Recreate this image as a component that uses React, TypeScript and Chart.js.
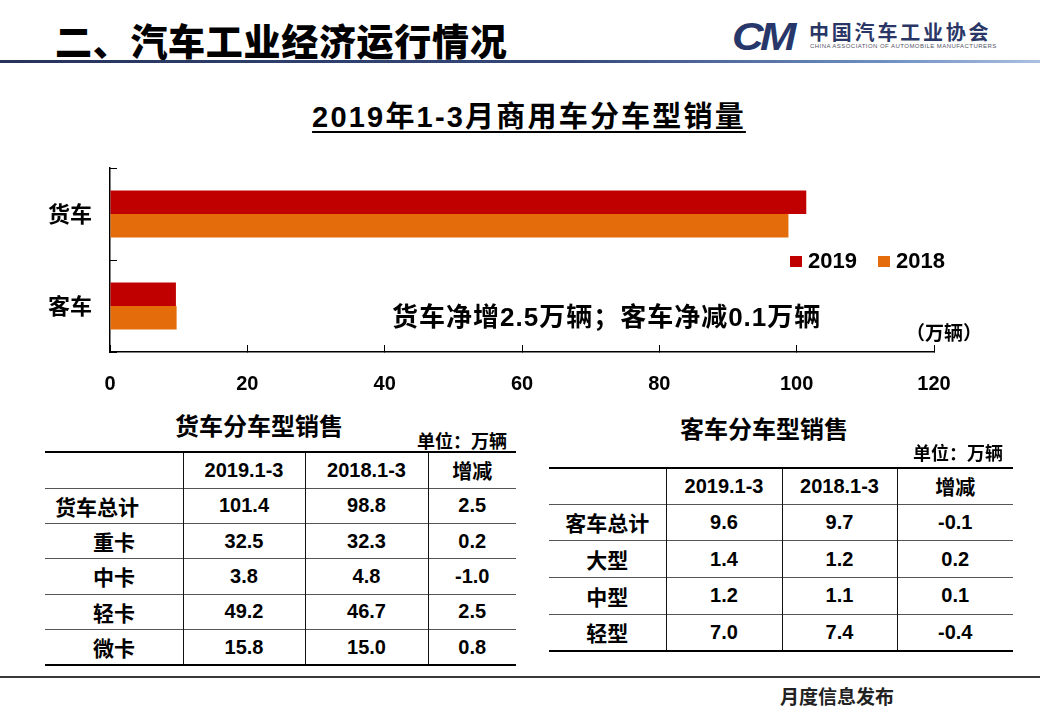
import React, { useEffect, useRef } from "react";
import { Chart, registerables } from "chart.js";

Chart.register(...registerables);

// ---- Data ----
const categories = ["货车", "客车"];
const seriesLabels = ["2019", "2018"];
const sales2019 = [101.4, 9.6];
const sales2018 = [98.8, 9.7];
const seriesColors = ["#C00000", "#E46C0A"];
const xMin = 0;
const xMax = 120;
const xStep = 20;

const chartTitle = "2019年1-3月商用车分车型销量";
const noteText = "货车净增2.5万辆；客车净减0.1万辆";
const unitText = "（万辆）";

const tableHeaders = ["2019.1-3", "2018.1-3", "增减"];
const truckRows = ["货车总计", "重卡", "中卡", "轻卡", "微卡"];
const truck2019 = ["101.4", "32.5", "3.8", "49.2", "15.8"];
const truck2018 = ["98.8", "32.3", "4.8", "46.7", "15.0"];
const truckDiff = ["2.5", "0.2", "-1.0", "2.5", "0.8"];

const busRows = ["客车总计", "大型", "中型", "轻型"];
const bus2019 = ["9.6", "1.4", "1.2", "7.0"];
const bus2018 = ["9.7", "1.2", "1.1", "7.4"];
const busDiff = ["-0.1", "0.2", "0.1", "-0.4"];

const CJK = '"Noto Sans CJK SC", "Noto Sans", sans-serif';
const LAT = '"Liberation Sans", Arial, "Noto Sans CJK SC", sans-serif';

type TableProps = {
  left: number;
  top: number;
  colWidths: number[];
  headerH: number;
  rowH: number;
  labels: string[];
  c1: string[];
  c2: string[];
  c3: string[];
  labelPad: (i: number) => React.CSSProperties;
};

function DataTable(p: TableProps) {
  const width = p.colWidths.reduce((a, b) => a + b, 0);
  const n = p.labels.length;
  const cellBase: React.CSSProperties = {
    padding: 0,
    textAlign: "center",
    verticalAlign: "middle",
    fontFamily: LAT,
    fontWeight: 700,
    fontSize: 20,
    color: "#000",
  };
  const border = (ri: number, ci: number): React.CSSProperties => {
    const s: React.CSSProperties = {};
    s.borderTop = ri === 0 ? "2px solid #000" : "1px solid #555";
    if (ri === n) s.borderBottom = "2px solid #000";
    if (ci > 0) s.borderLeft = "1px solid #111";
    return s;
  };
  return (
    <table
      style={{
        position: "absolute",
        left: p.left,
        top: p.top,
        width,
        borderCollapse: "collapse",
        tableLayout: "fixed",
      }}
    >
      <colgroup>
        {p.colWidths.map((w, i) => (
          <col key={i} style={{ width: w }} />
        ))}
      </colgroup>
      <tbody>
        <tr style={{ height: p.headerH }}>
          <td style={{ ...cellBase, ...border(0, 0) }}></td>
          {tableHeaders.map((h, i) => (
            <td
              key={i}
              style={{
                ...cellBase,
                ...border(0, i + 1),
                fontFamily: i === 2 ? CJK : LAT,
              }}
            >
              {h}
            </td>
          ))}
        </tr>
        {p.labels.map((lab, r) => (
          <tr key={r} style={{ height: p.rowH }}>
            <td
              style={{
                ...cellBase,
                ...border(r + 1, 0),
                fontFamily: CJK,
                fontSize: 21,
                ...p.labelPad(r),
              }}
            >
              {lab}
            </td>
            <td style={{ ...cellBase, ...border(r + 1, 1) }}>{p.c1[r]}</td>
            <td style={{ ...cellBase, ...border(r + 1, 2) }}>{p.c2[r]}</td>
            <td style={{ ...cellBase, ...border(r + 1, 3) }}>{p.c3[r]}</td>
          </tr>
        ))}
      </tbody>
    </table>
  );
}

export default function App() {
  const canvasRef = useRef<HTMLCanvasElement | null>(null);

  useEffect(() => {
    document.body.style.margin = "0";
    const ctx = canvasRef.current;
    if (!ctx) return;
    const chart = new Chart(ctx, {
      type: "bar",
      data: {
        labels: categories,
        datasets: [
          {
            label: seriesLabels[0],
            data: sales2019,
            backgroundColor: seriesColors[0],
            borderWidth: 0,
            barPercentage: 1,
            categoryPercentage: 0.51,
          },
          {
            label: seriesLabels[1],
            data: sales2018,
            backgroundColor: seriesColors[1],
            borderWidth: 0,
            barPercentage: 1,
            categoryPercentage: 0.51,
          },
        ],
      },
      options: {
        indexAxis: "y",
        responsive: true,
        maintainAspectRatio: false,
        animation: false,
        layout: { padding: { top: 18, right: 106, left: 0, bottom: 0 } },
        plugins: {
          legend: { display: false },
          tooltip: { enabled: false },
          title: { display: false },
        },
        scales: {
          x: {
            type: "linear",
            min: xMin,
            max: xMax,
            ticks: {
              stepSize: xStep,
              color: "#000",
              padding: 27,
              font: { family: LAT, size: 20, weight: "bold" },
            },
            grid: {
              drawOnChartArea: false,
              drawTicks: true,
              tickLength: -7,
              color: "#000",
              lineWidth: 1,
            },
            border: { display: true, color: "#000", width: 1.5 },
            afterFit: (s: any) => {
              s.height = 48;
              s.paddingLeft = 0;
              s.paddingRight = 0;
            },
          },
          y: {
            type: "category",
            ticks: {
              color: "#000",
              padding: 25,
              font: { family: CJK, size: 22, weight: "bold" },
            },
            grid: {
              offset: true,
              drawOnChartArea: false,
              drawTicks: true,
              tickLength: -7,
              color: "#000",
              lineWidth: 1,
            },
            border: { display: true, color: "#000", width: 1.5 },
            afterFit: (s: any) => {
              s.width = 110;
              s.paddingTop = 0;
              s.paddingBottom = 0;
            },
          },
        },
      },
    });
    return () => chart.destroy();
  }, []);

  const abs = (s: React.CSSProperties): React.CSSProperties => ({
    position: "absolute",
    whiteSpace: "nowrap",
    margin: 0,
    ...s,
  });

  return (
    <div
      style={{
        position: "relative",
        width: 1040,
        height: 720,
        background: "#fff",
        overflow: "hidden",
      }}
    >
      {/* Header */}
      <div
        style={abs({
          left: 55,
          top: 21,
          fontFamily: CJK,
          fontWeight: 900,
          fontSize: 37,
          lineHeight: "38px",
          color: "#000",
          letterSpacing: 0.7,
        })}
      >
        二、汽车工业经济运行情况
      </div>
      <div
        style={abs({
          left: 0,
          top: 60,
          width: 1040,
          height: 3,
          background: "linear-gradient(to right, #26345c 0%, #34497a 55%, #6f8fc2 85%, #a9c0e0 100%)",
        })}
      />
      {/* Logo */}
      <div
        style={abs({
          left: 732,
          top: 18,
          fontFamily: LAT,
          fontWeight: 900,
          fontStyle: "italic",
          fontSize: 38,
          lineHeight: "38px",
          color: "#27376a",
          letterSpacing: -3,
          transform: "scaleX(1.15)",
          transformOrigin: "left center",
        })}
      >
        CM
      </div>
      <div
        style={abs({
          left: 809,
          top: 21,
          fontFamily: CJK,
          fontWeight: 700,
          fontSize: 20,
          lineHeight: "22px",
          color: "#2a3766",
          letterSpacing: 2.8,
        })}
      >
        中国汽车工业协会
      </div>
      <div
        style={abs({
          left: 810,
          top: 43,
          fontFamily: LAT,
          fontSize: 6,
          lineHeight: "7px",
          color: "#556",
          letterSpacing: 0.45,
        })}
      >
        CHINA ASSOCIATION OF AUTOMOBILE MANUFACTURERS
      </div>

      {/* Chart title */}
      <div
        style={abs({
          left: 0,
          width: 1040,
          top: 100,
          textAlign: "center",
          fontFamily: LAT,
          fontWeight: 700,
          fontSize: 29,
          lineHeight: "34px",
          color: "#000",
          paddingLeft: 18,
          boxSizing: "border-box",
        })}
      >
        <span
          style={{
            textDecoration: "underline",
            textDecorationThickness: "2px",
            textUnderlineOffset: "4px",
            letterSpacing: 2.2,
          }}
        >
          {chartTitle}
        </span>
      </div>

      {/* Chart canvas */}
      <div style={{ position: "absolute", left: 0, top: 150, width: 1040, height: 250 }}>
        <canvas ref={canvasRef} />
      </div>

      {/* Legend */}
      {seriesLabels.map((lab, i) => (
        <div
          key={lab}
          style={abs({
            left: i === 0 ? 790 : 878,
            top: 248,
            height: 26,
            display: "flex",
            alignItems: "center",
            fontFamily: LAT,
            fontWeight: 700,
            fontSize: 22,
            color: "#000",
          })}
        >
          <span
            style={{
              display: "inline-block",
              width: 12,
              height: 11,
              background: seriesColors[i],
              marginRight: 6,
            }}
          />
          {lab}
        </div>
      ))}

      {/* Annotation */}
      <div
        style={abs({
          left: 392,
          top: 302,
          fontFamily: LAT,
          fontWeight: 700,
          fontSize: 26,
          lineHeight: "30px",
          color: "#000",
          letterSpacing: 1,
        })}
      >
        {noteText}
      </div>
      <div
        style={abs({
          left: 906,
          top: 320,
          fontFamily: CJK,
          fontWeight: 700,
          fontSize: 19,
          lineHeight: "24px",
          color: "#000",
        })}
      >
        {unitText}
      </div>

      {/* Truck table */}
      <div
        style={abs({
          left: 175,
          top: 411,
          fontFamily: CJK,
          fontWeight: 700,
          fontSize: 24,
          lineHeight: "28px",
          color: "#000",
        })}
      >
        货车分车型销售
      </div>
      <div
        style={abs({
          left: 417,
          top: 429,
          fontFamily: CJK,
          fontWeight: 700,
          fontSize: 18,
          lineHeight: "22px",
          color: "#000",
        })}
      >
        单位：万辆
      </div>
      <DataTable
        left={45}
        top={451}
        colWidths={[138, 122, 123, 88]}
        headerH={36}
        rowH={35.4}
        labels={truckRows}
        c1={truck2019}
        c2={truck2018}
        c3={truckDiff}
        labelPad={(i) =>
          i === 0
            ? { textAlign: "left", paddingLeft: 10 }
            : { textAlign: "left", paddingLeft: 48 }
        }
      />

      {/* Bus table */}
      <div
        style={abs({
          left: 680,
          top: 414,
          fontFamily: CJK,
          fontWeight: 700,
          fontSize: 24,
          lineHeight: "28px",
          color: "#000",
        })}
      >
        客车分车型销售
      </div>
      <div
        style={abs({
          left: 913,
          top: 441,
          fontFamily: CJK,
          fontWeight: 700,
          fontSize: 18,
          lineHeight: "22px",
          color: "#000",
        })}
      >
        单位：万辆
      </div>
      <DataTable
        left={549}
        top={467}
        colWidths={[117, 116, 115, 116]}
        headerH={36}
        rowH={36.75}
        labels={busRows}
        c1={bus2019}
        c2={bus2018}
        c3={busDiff}
        labelPad={() => ({ textAlign: "center" })}
      />

      {/* Footer */}
      <div style={abs({ left: 0, top: 676, width: 1040, height: 2, background: "#3a3a3a" })} />
      <div
        style={abs({
          left: 780,
          top: 684,
          fontFamily: CJK,
          fontWeight: 700,
          fontSize: 19,
          lineHeight: "24px",
          color: "#222",
        })}
      >
        月度信息发布
      </div>
    </div>
  );
}
